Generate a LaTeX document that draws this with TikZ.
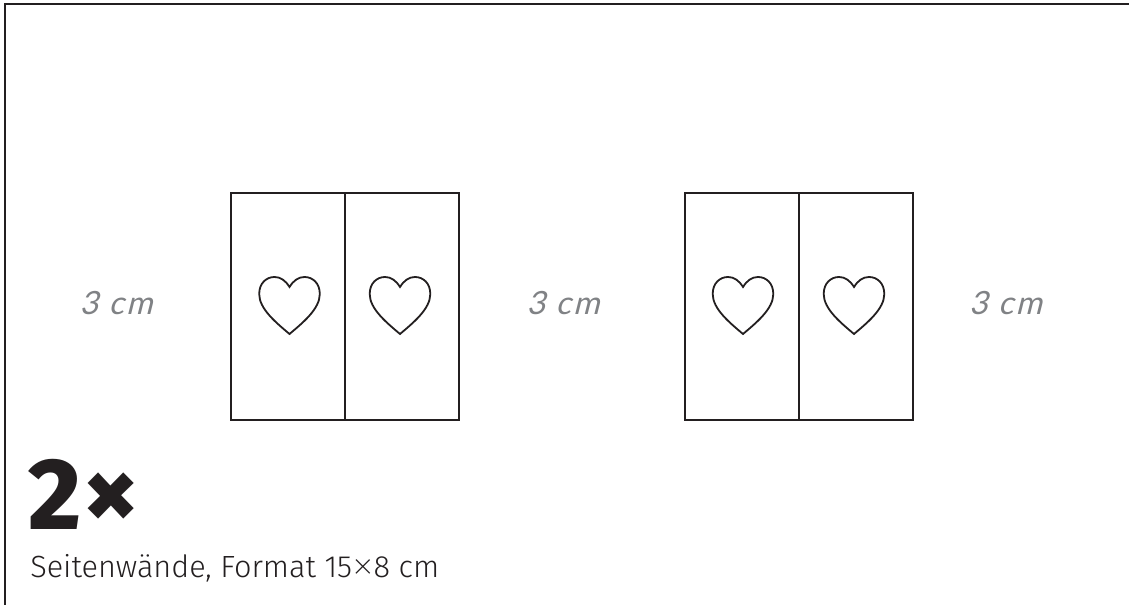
\documentclass[tikz,border=0pt]{standalone}
\usepackage{fontspec}
\setmainfont{Fira Sans}
\newfontfamily\handfont[FakeSlant=0.25,LetterSpace=7]{Lato}
\newfontfamily\captfont{Fira Sans Light}
\newfontfamily\numfont{Fira Sans ExtraBold}
\newfontfamily\timesfont{Lato Light}
\definecolor{ink}{HTML}{231F20}
\definecolor{pencil}{HTML}{808285}
\newcommand{\bigtimes}{\kern0.5pt\raisebox{-1pt}{\timesfont\fontsize{26}{26}\selectfont ×}\kern0.5pt}
\tikzset{
  panel/.style={draw=ink,line width=1.5pt,minimum width=85.2pt,minimum height=170.25pt,inner sep=0,outer sep=0,anchor=north west},
  heart/.style={draw=ink,line width=1.35pt,line join=miter},
  gap/.style={text=pencil,font=\handfont\fontsize{24}{24}\selectfont,inner sep=0,anchor=base},
  frame/.style={draw=ink,line width=1.5pt}
}
\newcommand{\heartat}[2]{%
 \draw[heart] (#1,#2+26)
  .. controls (#1-13,#2+15) and (#1-30.3,#2+1) .. (#1-30.3,#2-14)
  .. controls (#1-30.3,#2-25) and (#1-23,#2-31) .. (#1-15,#2-31)
  .. controls (#1-9,#2-31) and (#1-4,#2-27.5) .. (#1,#2-21)
  .. controls (#1+4,#2-27.5) and (#1+9,#2-31) .. (#1+15,#2-31)
  .. controls (#1+23,#2-31) and (#1+30.3,#2-25) .. (#1+30.3,#2-14)
  .. controls (#1+30.3,#2+1) and (#1+13,#2+15) .. (#1,#2+26) -- cycle;}
\begin{document}
\begin{tikzpicture}[x=0.75pt,y=-0.75pt]
\useasboundingbox (0,0) rectangle (1129,605);
\fill[white] (0,0) rectangle (1129,605);
\draw[frame] (5,605) -- (5,4.5) -- (1129,4.5);
\node[panel] (a) at (231,193) {};
\node[panel] (b) at (345,193) {};
\node[panel] (c) at (685,193) {};
\node[panel] (d) at (799,193) {};
\heartat{289.5}{308}
\heartat{400}{308}
\heartat{743}{308}
\heartat{854}{308}
\node[gap] (g1) at (116,315) {3 cm};
\node[gap] (g2) at (563,315) {3 cm};
\node[gap] (g3) at (1005.5,315) {3 cm};
\node[inner sep=0,anchor=base west,text=ink,font=\numfont\fontsize{76}{76}\selectfont] (n) at (28,530) {2\kern1pt\fontsize{82}{82}\selectfont×};
\node[inner sep=0,anchor=base west,text=ink,font=\captfont\fontsize{23}{23}\selectfont] (t) at (30,577.5) {Seitenwände, Format 15\bigtimes 8 cm};
\end{tikzpicture}
\end{document}
